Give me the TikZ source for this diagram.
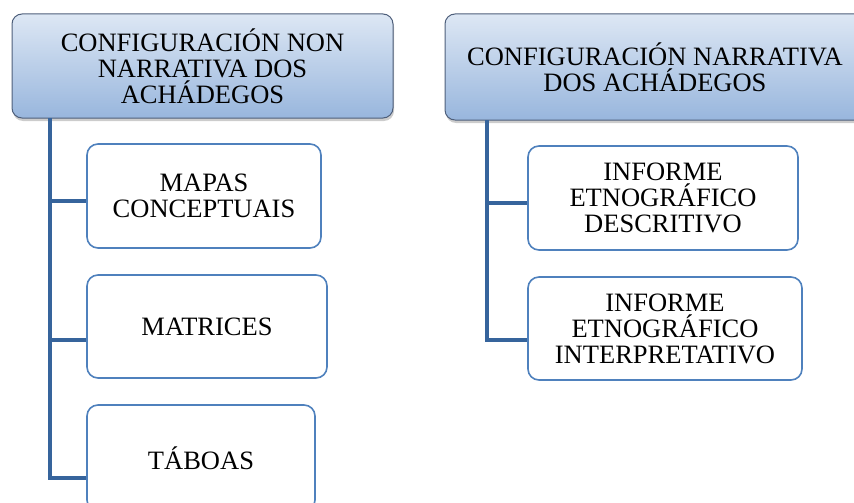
\documentclass[tikz,border=0pt]{standalone}
\usepackage{fontspec}
\setmainfont{Liberation Serif}
\usetikzlibrary{shadows}
\definecolor{hdrtop}{HTML}{DDE7F4}
\definecolor{hdrbot}{HTML}{98B6DD}
\definecolor{hdrline}{HTML}{4E5F7B}
\definecolor{itemline}{HTML}{4F81BD}
\definecolor{trunkcol}{HTML}{36649C}

\begin{document}
\begin{tikzpicture}[line cap=round,line join=round,x=1pt,y=-1pt,
    header/.style={draw=hdrline,line width=1pt,rounded corners=10pt,top color=hdrtop,bottom color=hdrbot,
      drop shadow={shadow xshift=1pt,shadow yshift=-3pt,opacity=0.4},
      align=center,inner sep=0pt,font=\fontsize{26.5}{26}\selectfont},
    item/.style={draw=itemline,line width=1.6pt,fill=white,rounded corners=11pt,
      align=center,inner sep=0pt,font=\fontsize{26.5}{26}\selectfont},
    trunk/.style={draw=trunkcol,line width=4.5pt,line cap=butt,line join=miter}]
  \useasboundingbox (0,0) rectangle (854,503);
  % left column
  \node[header,minimum width=381pt,minimum height=104pt] (hdrL) at (202.5,66) {CONFIGURACIÓN NON\\NARRATIVA DOS\\ACHÁDEGOS};
  \node[item,minimum width=234pt,minimum height=104pt] (mapas) at (204,196) {MAPAS\\CONCEPTUAIS};
  \node[item,minimum width=240pt,minimum height=103pt] (matrices) at (207,326.5) {MATRICES};
  \node[item,minimum width=228pt,minimum height=106pt] (taboas) at (201,458) {TÁBOAS};
  % right column
  \node[header,minimum width=420pt,minimum height=106pt] (hdrR) at (655,67) {CONFIGURACIÓN NARRATIVA\\DOS ACHÁDEGOS};
  \node[item,minimum width=270pt,minimum height=104pt] (descr) at (663,198) {INFORME\\ETNOGRÁFICO\\DESCRITIVO};
  \node[item,minimum width=274pt,minimum height=103pt] (interp) at (665,328.5) {INFORME\\ETNOGRÁFICO\\INTERPRETATIVO};
  % connectors
  \coordinate (trunkL) at (50,118);
  \coordinate (trunkR) at (487,120);
  \draw[trunk] (trunkL) |- ([yshift=-20pt]taboas.west);
  \draw[trunk] ([yshift=-5pt]mapas.west) -| (trunkL);
  \draw[trunk] ([yshift=-13.5pt]matrices.west) -| (trunkL);
  \draw[trunk] (trunkR) |- ([yshift=-11.5pt]interp.west);
  \draw[trunk] ([yshift=-5pt]descr.west) -| (trunkR);
\end{tikzpicture}
\end{document}
